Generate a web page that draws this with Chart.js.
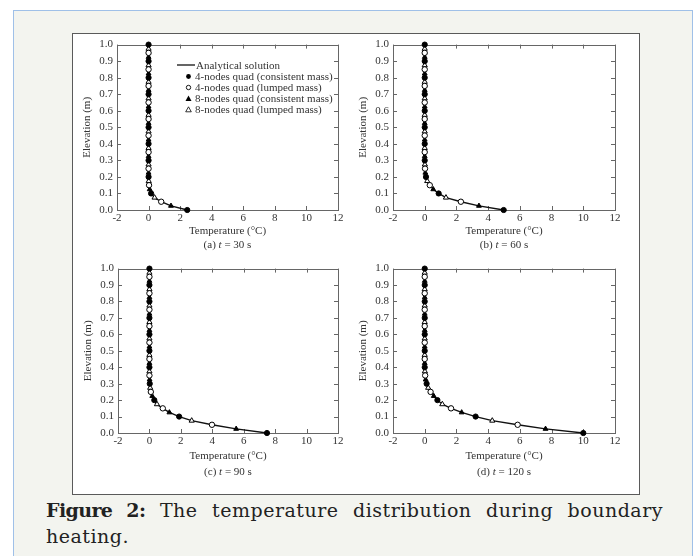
<!DOCTYPE html>
<html><head><meta charset="utf-8">
<script src="https://cdn.jsdelivr.net/npm/chart.js@4.4.1/dist/chart.umd.min.js"></script>
<style>
html,body{margin:0;padding:0;background:#fff;}
body{width:699px;height:556px;position:relative;overflow:hidden;font-family:"Liberation Serif","Times New Roman",serif;}
#panel{position:absolute;left:13px;top:10px;width:680px;height:570px;background:#f3f4ef;border:1px solid #9fc0e8;box-sizing:border-box;}
#fig{position:absolute;left:72px;top:33px;width:568px;height:462px;background:#fff;border:1.5px solid #5a5a5a;box-sizing:border-box;}
canvas{position:absolute;}
.lbl{position:absolute;font-size:11px;color:#333;white-space:nowrap;transform:translate(-50%,-50%);line-height:13px;}
.leg{position:absolute;font-size:11px;color:#333;white-space:nowrap;line-height:11px;}
.leg svg{position:absolute;}
#caption{position:absolute;left:46px;top:497px;width:617px;font-family:"DejaVu Serif",serif;font-size:19px;letter-spacing:0.5px;line-height:26px;text-align:justify;text-align-last:left;color:#222;}
#caption b{letter-spacing:-0.6px;}
</style></head>
<body>
<div id="panel"></div>
<div id="fig"></div>
<div id="caption"><b>Figure 2:</b> The temperature distribution during boundary heating.</div>
<script>
// ---- data ----
const elev = [0.000,0.025,0.050,0.075,0.100,0.125,0.150,0.175,0.200,0.225,0.250,0.275,0.300,0.325,0.350,0.375,0.400,0.425,0.450,0.475,0.500,0.525,0.550,0.575,0.600,0.625,0.650,0.675,0.700,0.725,0.750,0.775,0.800,0.825,0.850,0.875,0.900,0.925,0.950,0.975,1.000];
const temp30  = [2.45,1.42,0.80,0.38,0.16,0.07,0.03,0.01,0,0,0,0,0,0,0,0,0,0,0,0,0,0,0,0,0,0,0,0,0,0,0,0,0,0,0,0,0,0,0,0,0];
const temp60  = [4.98,3.42,2.28,1.34,0.88,0.54,0.32,0.16,0.08,0.04,0.02,0.01,0,0,0,0,0,0,0,0,0,0,0,0,0,0,0,0,0,0,0,0,0,0,0,0,0,0,0,0,0];
const temp90  = [7.48,5.52,3.98,2.69,1.89,1.27,0.85,0.48,0.31,0.18,0.09,0.05,0.02,0.01,0,0,0,0,0,0,0,0,0,0,0,0,0,0,0,0,0,0,0,0,0,0,0,0,0,0,0];
const temp120 = [10.00,7.62,5.86,4.26,3.21,2.33,1.66,1.11,0.80,0.57,0.37,0.22,0.12,0.06,0.03,0.01,0,0,0,0,0,0,0,0,0,0,0,0,0,0,0,0,0,0,0,0,0,0,0,0,0];
const xTicks = [-2,0,2,4,6,8,10,12];
const yTicks = [0.0,0.1,0.2,0.3,0.4,0.5,0.6,0.7,0.8,0.9,1.0];
const panelLabels = ['(a)','(b)','(c)','(d)'];
const panelTimes = [30,60,90,120];
const seriesNames = ['Analytical solution','4-nodes quad (consistent mass)','4-nodes quad (lumped mass)','8-nodes quad (consistent mass)','8-nodes quad (lumped mass)'];
const xTitle = 'Temperature (°C)';
const yTitle = 'Elevation (m)';

// ---- layout ----
const plotBoxes = [
  {L:117,T:43,R:338,B:210,o1:20,o2:34},
  {L:393,T:43,R:615,B:210,o1:20,o2:34},
  {L:118,T:267,R:338,B:433,o1:22,o2:38},
  {L:393,T:267,R:615,B:433,o1:22,o2:38}
];
const allTemps = [temp30,temp60,temp90,temp120];
const FONT = '"Liberation Serif","Times New Roman",serif';
Chart.defaults.font.family = FONT;
Chart.defaults.color = '#333';

const framePlugin = {
  id:'frame',
  beforeDatasetsDraw(chart){
    const {ctx, chartArea:a, scales:{x,y}} = chart;
    ctx.save();
    ctx.strokeStyle = '#666';
    ctx.lineWidth = 1;
    ctx.strokeRect(Math.round(a.left)+0.5, Math.round(a.top)+0.5, Math.round(a.right-a.left), Math.round(a.bottom-a.top));
    ctx.beginPath();
    const tl = 4;
    x.ticks.forEach(t=>{
      const px = Math.round(x.getPixelForValue(t.value))+0.5;
      ctx.moveTo(px, a.bottom); ctx.lineTo(px, a.bottom-tl);
      ctx.moveTo(px, a.top); ctx.lineTo(px, a.top+tl);
    });
    y.ticks.forEach(t=>{
      const py = Math.round(y.getPixelForValue(t.value))+0.5;
      ctx.moveTo(a.left, py); ctx.lineTo(a.left+tl, py);
      ctx.moveTo(a.right, py); ctx.lineTo(a.right-tl, py);
    });
    ctx.stroke();
    ctx.restore();
  }
};

function addLabel(text, html, x, y){
  const d = document.createElement('div');
  d.className = 'lbl';
  if (html) d.innerHTML = text; else d.textContent = text;
  d.style.left = x+'px'; d.style.top = y+'px';
  document.body.appendChild(d);
}

plotBoxes.forEach((b, k)=>{
  const padL = 46, padT = 9, padR = 10, padB = 16;
  const cv = document.createElement('canvas');
  const w = b.R - b.L + padL + padR, h = b.B - b.T + padT + padB;
  cv.width = w; cv.height = h;
  cv.style.left = (b.L - padL)+'px'; cv.style.top = (b.T - padT)+'px';
  cv.style.width = w+'px'; cv.style.height = h+'px';
  document.body.appendChild(cv);
  const temps = allTemps[k];
  const pts = (m)=> elev.map((z,i)=>({x:temps[i], y:z})).filter((p,i)=> i%4===m);
  const full = elev.map((z,i)=>({x:temps[i], y:z}));
  const common = {showLine:false, clip:false, borderWidth:1, borderColor:'#000'};
  new Chart(cv, {
    type:'scatter',
    data:{datasets:[
      {label:seriesNames[0], data:full, showLine:true, borderColor:'#111', borderWidth:1.4, pointRadius:0, clip:false, order:10, tension:0},
      Object.assign({label:seriesNames[1], data:pts(0), pointStyle:'circle', pointRadius:2.6, backgroundColor:'#000', order:1}, common),
      Object.assign({label:seriesNames[2], data:pts(2), pointStyle:'circle', pointRadius:2.7, backgroundColor:'#fff', order:2}, common),
      Object.assign({label:seriesNames[3], data:pts(1), pointStyle:'triangle', pointRadius:2.8, backgroundColor:'#000', order:3}, common),
      Object.assign({label:seriesNames[4], data:pts(3), pointStyle:'triangle', pointRadius:3, backgroundColor:'#fff', order:4}, common)
    ]},
    options:{
      responsive:false, animation:false, devicePixelRatio:1,
      layout:{padding:{top:padT, right:padR, left:0, bottom:0}},
      plugins:{legend:{display:false}, tooltip:{enabled:false}},
      scales:{
        x:{type:'linear', min:-2, max:12,
           afterBuildTicks:s=>{s.ticks = xTicks.map(v=>({value:v}));},
           afterFit:s=>{s.height = padB;},
           grid:{display:false, drawTicks:false}, border:{display:false},
           ticks:{padding:2, font:{size:11, family:FONT}, color:'#333', maxRotation:0, autoSkip:false}},
        y:{type:'linear', min:0, max:1,
           afterBuildTicks:s=>{s.ticks = yTicks.map(v=>({value:v}));},
           afterFit:s=>{s.width = padL;},
           grid:{display:false, drawTicks:false}, border:{display:false},
           ticks:{padding:4, font:{size:11, family:FONT}, color:'#333', autoSkip:false, callback:v=>Number(v).toFixed(1)},
           title:{display:true, text:yTitle, font:{size:11, family:FONT}, color:'#333', padding:{top:10, bottom:0}}}
      }
    },
    plugins:[framePlugin]
  });
  const cx = (b.L + b.R)/2;
  addLabel(xTitle, false, cx, b.B + b.o1);
  addLabel(panelLabels[k] + ' <i>t</i> = ' + panelTimes[k] + ' s', true, cx, b.B + b.o2);
});

// ---- legend in panel (a) ----
const legRows = [66, 77, 88, 99, 110];
const legSym = [
  '<svg width="18" height="6" style="left:-19px;top:2px"><line x1="0" y1="3" x2="18" y2="3" stroke="#111" stroke-width="1.3"/></svg>',
  '<svg width="7" height="7" style="left:-10px;top:2px"><circle cx="3.5" cy="3.5" r="2.4" fill="#000"/></svg>',
  '<svg width="7" height="7" style="left:-10px;top:2px"><circle cx="3.5" cy="3.5" r="2.2" fill="#fff" stroke="#000" stroke-width="0.9"/></svg>',
  '<svg width="7" height="7" style="left:-10px;top:2px"><polygon points="3.5,0.5 6.5,6 0.5,6" fill="#000"/></svg>',
  '<svg width="7" height="7" style="left:-10px;top:2px"><polygon points="3.5,0.8 6.3,5.8 0.7,5.8" fill="#fff" stroke="#000" stroke-width="0.8"/></svg>'
];
seriesNames.forEach((n,i)=>{
  const d = document.createElement('div');
  d.className = 'leg';
  d.style.left = (i===0 ? 196 : 195)+'px';
  d.style.top = (legRows[i]-6)+'px';
  d.innerHTML = legSym[i] + '<span></span>';
  d.querySelector('span').textContent = n;
  document.body.appendChild(d);
});
</script>
</body></html>
